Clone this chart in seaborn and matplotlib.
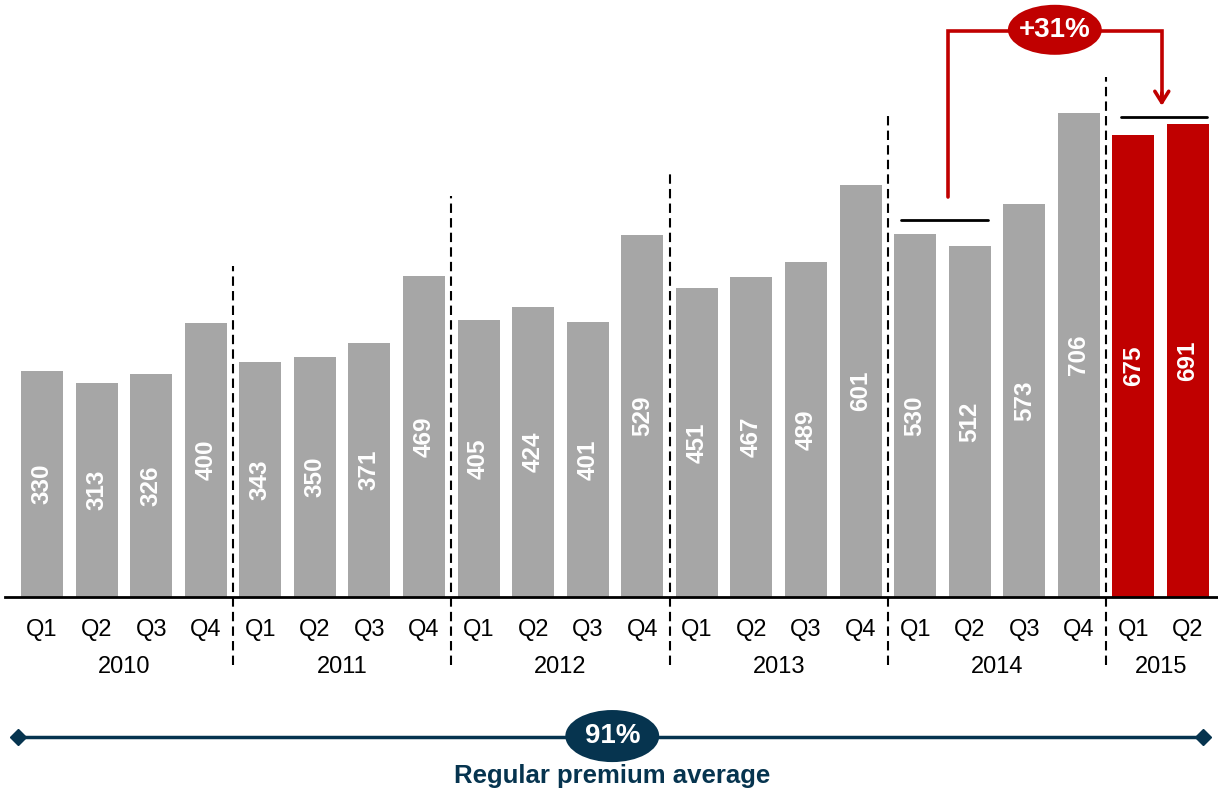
import matplotlib
matplotlib.use("Agg")
import matplotlib.pyplot as plt
import seaborn as sns
import pandas as pd
from matplotlib.patches import Ellipse

# ---------------- data ----------------
years = ["2010", "2011", "2012", "2013", "2014", "2015"]
quarters_per_year = [4, 4, 4, 4, 4, 2]
quarter_names = ["Q1", "Q2", "Q3", "Q4"]
values = [330, 313, 326, 400,
          343, 350, 371, 469,
          405, 424, 401, 529,
          451, 467, 489, 601,
          530, 512, 573, 706,
          675, 691]
growth_label = "+31%"
average_label = "91%"
average_caption = "Regular premium average"

# ---------------- styling ----------------
GREY = "#A6A6A6"
RED = "#C00000"
NAVY = "#06344F"

sns.set_style("white")
plt.rcParams["font.family"] = ["Liberation Sans", "DejaVu Sans"]
plt.rcParams["text.color"] = "black"

labels, groups, qlabels = [], [], []
for y, n in zip(years, quarters_per_year):
    for q in quarter_names[:n]:
        labels.append(f"{y} {q}")
        qlabels.append(q)
        groups.append("highlight" if y == "2015" else "base")
df = pd.DataFrame({"label": labels, "value": values, "group": groups})

fig = plt.figure(figsize=(12.18, 7.92), dpi=100)
ax = fig.add_axes([5 / 1218, 195 / 792, 1213 / 1218, 597 / 792])

sns.barplot(data=df, x="label", y="value", hue="group",
            palette={"base": GREY, "highlight": RED}, dodge=False,
            width=0.77, legend=False, ax=ax, linewidth=0, saturation=1)

ax.set_xlim(-0.678, 21.55)
ax.set_ylim(0, 871.5)
for s in ["top", "right", "left"]:
    ax.spines[s].set_visible(False)
ax.spines["bottom"].set_linewidth(2)
ax.spines["bottom"].set_color("black")
ax.set_xticks([])
ax.set_yticks([])
ax.set_xlabel("")
ax.set_ylabel("")

# value labels inside bars
for i, v in enumerate(values):
    ax.text(i, v / 2, f"{v}", rotation=90, ha="center", va="center",
            color="white", fontsize=17.5, fontweight="bold")

# quarter labels and year labels
for i, q in enumerate(qlabels):
    ax.text(i, -48, q, ha="center", va="center", fontsize=17, color="black",
            clip_on=False)
start = 0
for y, n in zip(years, quarters_per_year):
    ax.text(start + (n - 1) / 2, -102, y, ha="center", va="center",
            fontsize=17, color="black", clip_on=False)
    start += n

# dashed separators
sep_tops = [483, 585, 623, 704, 759]
pos = 0
for n, top in zip(quarters_per_year[:-1], sep_tops):
    pos += n
    ax.plot([pos - 0.5, pos - 0.5], [-99, top], ls=(0, (4.5, 2.5)), color="black",
            lw=1.5, clip_on=False, zorder=3)

# black reference lines
ax.plot([15.75, 17.34], [550, 550], color="black", lw=2, zorder=3)
ax.plot([19.77, 21.35], [701, 701], color="black", lw=2, zorder=3)

# red bracket with arrow
ax.plot([16.60, 16.60, 20.52, 20.52], [584, 826, 826, 722], color=RED, lw=2.6,
        solid_joinstyle="miter", zorder=4, clip_on=False)
ax.annotate("", xy=(20.52, 713), xytext=(20.52, 740),
            arrowprops=dict(arrowstyle="->,head_length=0.8,head_width=0.5",
                            color=RED, lw=2.6), zorder=4)
ax.add_patch(Ellipse((18.56, 828), 1.72, 73, facecolor=RED, edgecolor="none",
                     zorder=5, clip_on=False))
ax.text(18.56, 828, growth_label, ha="center", va="center", color="white",
        fontsize=20, fontweight="bold", zorder=6)

# bottom average line
ax.plot([-0.44, 21.28], [-204, -204], color=NAVY, lw=2.5, clip_on=False,
        marker="D", markersize=8, markevery=[0, 1], zorder=4)
ax.add_patch(Ellipse((10.45, -203), 1.72, 76, facecolor=NAVY, edgecolor="none",
                     zorder=5, clip_on=False))
ax.text(10.45, -203, average_label, ha="center", va="center", color="white",
        fontsize=20, fontweight="bold", zorder=6, clip_on=False)
ax.text(10.45, -262, average_caption, ha="center", va="center", color=NAVY,
        fontsize=18.5, fontweight="bold", clip_on=False)

fig.savefig("out.png", dpi=100)
